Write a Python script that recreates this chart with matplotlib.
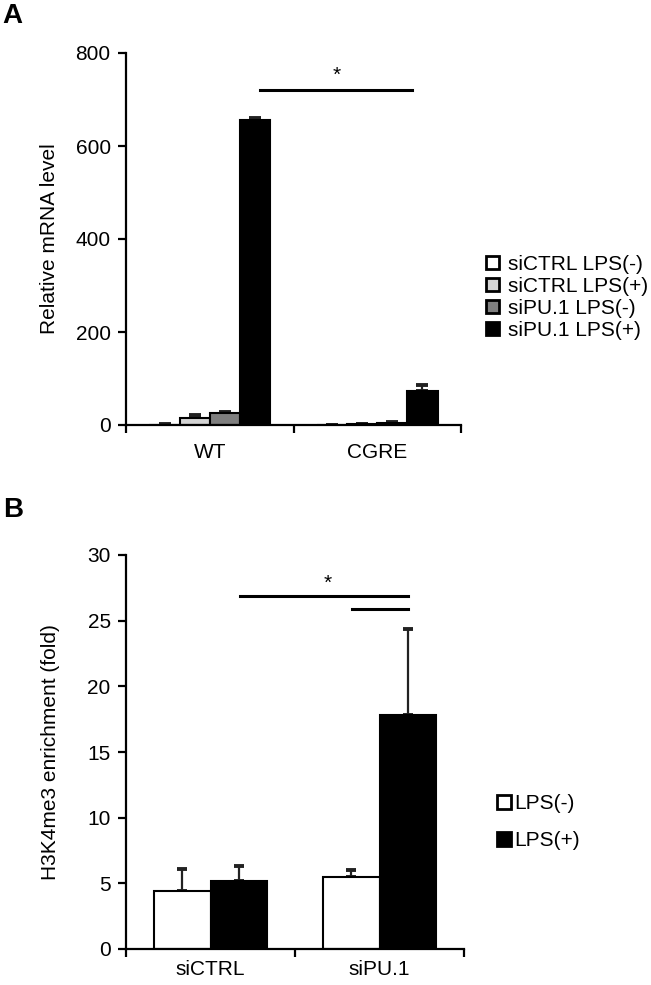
import numpy as np
import matplotlib.pyplot as plt
from matplotlib.patches import Patch

plt.rcParams['font.family'] = ['Liberation Sans', 'DejaVu Sans']

# --- panel A data
groups_a = ["WT", "CGRE"]
series_a = ["siCTRL LPS(-)", "siCTRL LPS(+)", "siPU.1 LPS(-)", "siPU.1 LPS(+)"]
colors_a = ["white", "#d4d4d4", "#7f7f7f", "black"]
vals_a = [[1, 16, 25, 655],
          [0.5, 2, 4, 73]]
errs_a = [[0.5, 5, 4, 6],
          [0.3, 0.8, 1.5, 12]]

# --- panel B data
groups_b = ["siCTRL", "siPU.1"]
series_b = ["LPS(-)", "LPS(+)"]
colors_b = ["white", "black"]
vals_b = [[4.4, 5.2],
          [5.45, 17.8]]
errs_b = [[1.7, 1.1],
          [0.55, 6.6]]

W, H = 651, 985
FS = 15
fig = plt.figure(figsize=(W / 100, H / 100), dpi=100)


def px_axes(x0, y0, x1, y1):
    # pixel box (top-left origin) -> figure fraction
    return fig.add_axes([x0 / W, (H - y1) / H, (x1 - x0) / W, (y1 - y0) / H])


def style(ax, ymax, ystep, groups, xpad):
    ax.set_xlim(0, len(groups))
    ax.set_ylim(0, ymax)
    ax.set_yticks(np.arange(0, ymax + 1e-9, ystep))
    ax.set_xticks(np.arange(len(groups) + 1))
    ax.set_xticklabels([])
    ax.set_xticks(np.arange(len(groups)) + 0.5, minor=True)
    ax.set_xticklabels(groups, minor=True)
    ax.tick_params(axis='x', which='minor', length=0, pad=xpad, labelsize=FS)
    ax.tick_params(axis='x', which='major', length=6, width=1.6)
    ax.tick_params(axis='y', length=6, width=1.6, labelsize=FS, pad=5)
    for s in ["top", "right"]:
        ax.spines[s].set_visible(False)
    for s in ["left", "bottom"]:
        ax.spines[s].set_linewidth(1.6)


def bars(ax, vals, errs, colors, width, cap):
    n = len(colors)
    for gi, (v, e) in enumerate(zip(vals, errs)):
        for si in range(n):
            x = gi + 0.5 + (si - (n - 1) / 2) * width
            ax.bar(x, v[si], width, color=colors[si], edgecolor="black", linewidth=1.5, zorder=2)
            ax.errorbar(x, v[si], yerr=[[0], [e[si]]], color="#222222", elinewidth=1.6,
                        capsize=cap, capthick=2.8, zorder=1)


# ---- panel A
axa = px_axes(126, 53, 461, 425)
bars(axa, vals_a, errs_a, colors_a, 0.18, 4.5)
style(axa, 800, 200, groups_a, 13)
axa.set_ylabel("Relative mRNA level", fontsize=FS, labelpad=12)
axa.plot([0.8, 1.71], [720, 720], color="black", lw=2.2, clip_on=False)
axa.text(1.255, 732, "*", ha="center", va="bottom", fontsize=FS)
fig.legend(handles=[Patch(facecolor=c, edgecolor="black", linewidth=2) for c in colors_a],
           labels=series_a, loc="upper left", bbox_to_anchor=(486 / W, 1 - 255 / H),
           frameon=False, fontsize=FS, handlelength=0.6, handleheight=0.6,
           handletextpad=0.45, labelspacing=0.14, borderaxespad=0, borderpad=0)
fig.text(2 / W, 1 - 16 / H, "A", fontsize=20, fontweight="bold", va="center", ha="left")

# ---- panel B
axb = px_axes(126, 555, 464, 949)
bars(axb, vals_b, errs_b, colors_b, 0.337, 3.5)
style(axb, 30, 5, groups_b, 8)
axb.set_ylabel("H3K4me3 enrichment (fold)", fontsize=FS, labelpad=20)
axb.plot([0.675, 1.67], [26.9, 26.9], color="black", lw=2.2, clip_on=False)
axb.plot([1.34, 1.67], [25.9, 25.9], color="black", lw=2.2, clip_on=False)
axb.text(1.195, 27.1, "*", ha="center", va="bottom", fontsize=FS)
fig.legend(handles=[Patch(facecolor=c, edgecolor="black", linewidth=2) for c in colors_b],
           labels=series_b, loc="upper left", bbox_to_anchor=(497 / W, 1 - 794 / H),
           frameon=False, fontsize=FS, handlelength=0.65, handleheight=0.65,
           handletextpad=0.2, labelspacing=0.88, borderaxespad=0, borderpad=0)
fig.text(3 / W, 1 - 510 / H, "B", fontsize=20, fontweight="bold", va="center", ha="left")

fig.savefig("out.png", dpi=100)
